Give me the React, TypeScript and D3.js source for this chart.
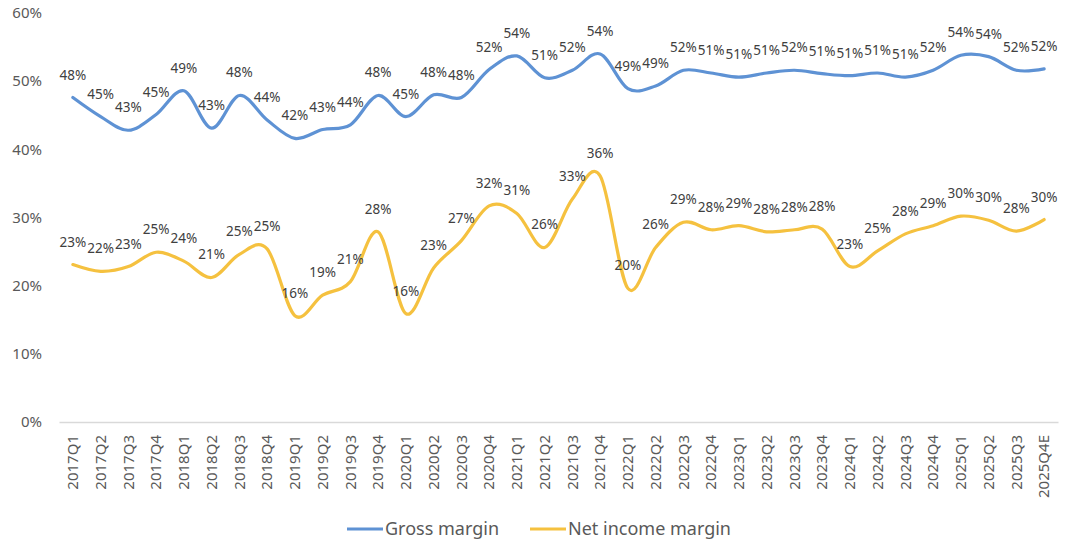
import { useEffect, useRef } from "react";
import {
  axisBottom,
  axisLeft,
  curveCardinal,
  line,
  scaleBand,
  scaleLinear,
  select,
} from "d3";

const quarters = [
  "2017Q1", "2017Q2", "2017Q3", "2017Q4",
  "2018Q1", "2018Q2", "2018Q3", "2018Q4",
  "2019Q1", "2019Q2", "2019Q3", "2019Q4",
  "2020Q1", "2020Q2", "2020Q3", "2020Q4",
  "2021Q1", "2021Q2", "2021Q3", "2021Q4",
  "2022Q1", "2022Q2", "2022Q3", "2022Q4",
  "2023Q1", "2023Q2", "2023Q3", "2023Q4",
  "2024Q1", "2024Q2", "2024Q3", "2024Q4",
  "2025Q1", "2025Q2", "2025Q3", "2025Q4E",
];

// gross margin, %
const grossMargin = [
  47.6, 44.8, 42.8, 45.1,
  48.6, 43.1, 47.9, 44.3,
  41.6, 42.9, 43.6, 47.9,
  44.8, 48.0, 47.6, 51.7,
  53.7, 50.5, 51.6, 54.0,
  48.9, 49.3, 51.6, 51.2,
  50.6, 51.2, 51.6, 51.1,
  50.8, 51.2, 50.6, 51.6,
  53.8, 53.6, 51.6, 51.8,
];

// net income margin, %
const netMargin = [
  23.1, 22.1, 22.8, 24.9,
  23.6, 21.2, 24.6, 25.4,
  15.6, 18.6, 20.6, 27.9,
  15.9, 22.6, 26.6, 31.7,
  30.6, 25.6, 32.7, 36.1,
  19.6, 25.6, 29.3, 28.2,
  28.8, 27.9, 28.2, 28.3,
  22.8, 25.1, 27.6, 28.8,
  30.2, 29.6, 28.0, 29.7,
];

const yTicks = [0, 10, 20, 30, 40, 50, 60];

const seriesList = [
  { name: "Gross margin", values: grossMargin, color: "#5E92D4" },
  { name: "Net income margin", values: netMargin, color: "#F5C13F" },
];

const FONT = "'Noto Sans', 'Open Sans', sans-serif";

export default function App() {
  const svgRef = useRef<SVGSVGElement | null>(null);

  useEffect(() => {
    const svg = select(svgRef.current);
    svg.selectAll("*").remove();

    const left = 59;
    const right = 1058;
    const top = 13;
    const bottom = 422;

    const x = scaleBand().domain(quarters).range([left, right]);
    const y = scaleLinear().domain([0, 60]).range([bottom, top]);
    const cx = (i: number) => (x(quarters[i]) || 0) + x.bandwidth() / 2;

    // y axis
    const yAxis = svg.append("g").attr("transform", `translate(${left},0)`);
    yAxis.call(
      axisLeft(y)
        .tickValues(yTicks)
        .tickSize(0)
        .tickPadding(17)
        .tickFormat((d) => `${d}%`)
    );
    yAxis.select(".domain").remove();
    yAxis
      .selectAll(".tick text")
      .attr("fill", "#595959")
      .style("font-family", FONT)
      .style("font-size", "15px");

    // x axis
    const xAxis = svg.append("g").attr("transform", `translate(0,${bottom})`);
    xAxis.call(axisBottom(x).tickSize(0));
    xAxis.select(".domain").attr("stroke", "#d9d9d9").attr("stroke-width", 1.3);
    xAxis
      .selectAll(".tick text")
      .attr("fill", "#595959")
      .attr("transform", "rotate(-90)")
      .attr("text-anchor", "end")
      .attr("x", -13)
      .attr("y", 0)
      .attr("dy", "0.35em")
      .style("font-family", FONT)
      .style("font-size", "15px");

    // lines
    const path = line<number>()
      .x((_, i) => cx(i))
      .y((d) => y(d))
      .curve(curveCardinal.tension(0));

    seriesList.forEach((s) => {
      svg
        .append("path")
        .datum(s.values)
        .attr("d", path)
        .attr("fill", "none")
        .attr("stroke", s.color)
        .attr("stroke-width", 3.2)
        .attr("stroke-linecap", "round");
    });

    // data labels
    seriesList.forEach((s) => {
      svg
        .append("g")
        .selectAll("text")
        .data(s.values)
        .enter()
        .append("text")
        .attr("x", (_, i) => cx(i))
        .attr("y", (d) => y(d) - 18)
        .attr("text-anchor", "middle")
        .attr("fill", "#404040")
        .style("font-family", FONT)
        .style("font-size", "13.5px")
        .text((d) => `${Math.round(d)}%`);
    });

    // legend
    const legendY = 529;
    const legendX = [347, 530];
    seriesList.forEach((s, i) => {
      const g = svg.append("g").attr("transform", `translate(${legendX[i]},${legendY})`);
      g.append("line")
        .attr("x1", 0)
        .attr("x2", 36)
        .attr("stroke", s.color)
        .attr("stroke-width", 3.2);
      g.append("text")
        .attr("x", 38)
        .attr("dy", "0.35em")
        .attr("fill", "#595959")
        .style("font-family", FONT)
        .style("font-size", "18px")
        .text(s.name);
    });
  }, []);

  return (
    <svg
      ref={svgRef}
      width={1080}
      height={550}
      style={{ position: "absolute", left: 0, top: 0, background: "#fff" }}
    ></svg>
  );
}
